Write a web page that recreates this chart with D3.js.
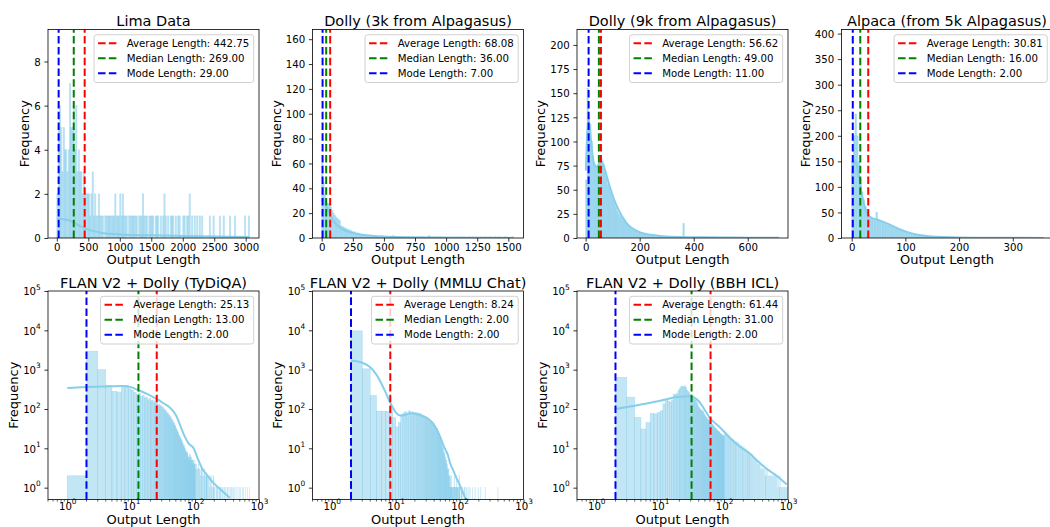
<!DOCTYPE html>
<html><head><meta charset="utf-8">
<script src="https://cdn.jsdelivr.net/npm/d3@7/dist/d3.min.js"></script>
<style>
html,body{margin:0;padding:0;background:#fff;}
svg{display:block;}
</style></head><body>
<svg id="c" width="1050" height="527"></svg>
<script>
// ---------------- DATA ----------------
const titles = ["Lima Data","Dolly (3k from Alpagasus)","Dolly (9k from Alpagasus)","Alpaca (from 5k Alpagasus)",
                "FLAN V2 + Dolly (TyDiQA)","FLAN V2 + Dolly (MMLU Chat)","FLAN V2 + Dolly (BBH ICL)"];
const meanVals   = [442.75, 68.08, 56.62, 30.81, 25.13, 8.24, 61.44];
const medianVals = [269, 36, 49, 16, 13, 2, 31];
const modeVals   = [29, 7, 11, 2, 2, 2, 2];
const legendNames = ["Average Length: ", "Median Length: ", "Mode Length: "];
const xLabelText = "Output Length";
const yLabelText = "Frequency";

// Linear panels: histogram counts (bin width in output-length units)
const limaBinWidth = 20;
const limaCounts = [2,5,6,5,3,5,4,4,3,4, 7,5,5,6,4,6,3,4,3,3, 2,3,2,2,2,2,1,2,3,1, 2,1,1,2,1,1,1,0,1,1,
  1,1,1,1,1,1,2,1,1,1, 2,1,2,1,1,1,0,1,1,1, 1,1,1,1,0,1,1,1,2,1, 1,1,0,1,1,1,1,0,1,1,
  1,0,1,0,1,2,1,0,1,0, 1,1,1,0,1,0,1,1,0,0, 1,1,0,1,1,2,0,1,0,1, 0,1,0,1,0,1,0,0,0,0,
  0,1,0,0,1,0,0,0,0,1, 0,0,1,0,0,0,0,1,0,0, 0,1,0,0,0,0,0,0,0,1, 0,0,1];
const limaXTicks = [0,500,1000,1500,2000,2500,3000];
const limaYTicks = [0,2,4,6,8];
const limaKdeX = [0,100,200,300,400,500,700,1000,1500,2000,2500,3060];
const limaKdeY = [0.88,0.85,0.8,0.65,0.5,0.38,0.24,0.16,0.12,0.09,0.07,0.05];

const dolly3kBinWidth = 10;
const dolly3kCounts = [60,45,35,30,28,28,27,25,22,20, 18,17,16,15,14,10,9,9,8,8, 7,7,6,6,5,5,5,4,4,4,
  3,3,3,2,3,2,2,2,2,1, 2,1,1,2,1,1,1,1,2,1, 1,1,1,0,1,1,1,2,1,1, 1,1,0,1,1,1,1,0,1,1,
  1,0,1,1,1,0,1,1,0,1, 1,1,0,1,0,1,2,0,1,0, 1,0,1,1,0,1,0,1,0,1, 0,1,0,1,0,0,1,0,1,0,
  1,0,0,1,0,1,0,0,1,0, 0,1,0,0,1,0,0,0,1,0, 0,1,0,0,0,1,0,0,0,1, 0,0,1,0,0,0,0,1,0,0, 0,0,0,1];
const dolly3kXTicks = [0,250,500,750,1000,1250,1500];
const dolly3kYTicks = [0,20,40,60,80,100,120,140,160];
const dolly3kKdeX = [0,10,30,60,100,150,200,300,400,600,1000,1540];
const dolly3kKdeY = [30,32,27,20,13,8,5.5,3,1.8,0.8,0.3,0.1];

const dolly9kBinWidth = 5;
const dolly9kCounts = [60,155,125,118,100,85,77,75,72,74, 78,82,80,76,68,62,55,52,47,44, 40,36,32,28,25,23,21,19,17,16,
  14,13,11,10,9,8,7,7,6,5, 5,4,4,4,3,3,3,2,3,2, 2,2,2,1,2,1,2,1,1,2, 1,1,1,1,0,1,1,1,0,1,
  1,1,15,1,0,1,1,0,1,0, 1,1,0,1,0,1,0,1,1,0, 1,0,1,0,1,1,0,0,1,0, 1,0,1,0,0,1,0,1,0,0,
  1,0,0,1,0,1,0,0,0,1, 0,0,1,0,0,0,1,0,0,1, 0,0,0,1,0,0,0,0,1,0, 0,0,1];
const dolly9kXTicks = [0,200,400,600];
const dolly9kYTicks = [0,25,50,75,100,125,150,175,200];
const dolly9kKdeX = [1,5,10,15,20,30,40,50,60,70,80,100,120,150,200,250,300,400,500,600,713];
const dolly9kKdeY = [70,105,122,115,100,78,73,77,78,72,62,44,30,16,6,3,1.5,0.8,0.5,0.3,0.2];

const alpacaBinWidth = 3;
const alpacaCounts = [150,200,243,200,150,115,90,75,62,50, 45,40,38,36,38,50,36,34,33,30, 28,27,25,24,22,21,20,19,17,16,
  15,14,13,12,10,9,8,7,6,6, 5,4,4,3,3,3,2,2,2,2, 2,1,2,1,1,1,1,1,1,1, 1,0,1,1,0,1,0,1,1,0,
  1,0,1,0,1,0,0,1,0,1, 0,1,0,0,1,0,1,0,0,1, 0,0,1,0,0,1,0,0,0,1, 0,0,1,0,0,0,1,0,0,0, 1,0,0,0,1,0,0,0,1];
const alpacaXTicks = [0,100,200,300];
const alpacaYTicks = [0,50,100,150,200,250,300,350,400];
const alpacaKdeX = [1,3,6,9,12,15,20,25,30,40,50,60,75,90,100,120,150,200,250,300,357];
const alpacaKdeY = [120,140,150,145,128,108,80,58,46,38,35,31,24,17,13,7,3,1,0.5,0.3,0.2];

// axis limits of the linear panels
const linXDomains = [[-140,3211],[-74,1622],[-32,749],[-19,374]];
const linYMax = [9.45,167.8,216,408];

// Log panels: counts per output length 1..99, then tail counts (100 log bins per decade from 10^2)
const tydiqaHead = [2,2950,1000,400,280,270,380,400,330,300, 260,230,250,210,220,190,200,170,185,160,
  170,150,160,140,150,125,135,118,125,110, 112,98,100,88,90,78,80,70,72,62, 64,55,56,48,50,42,44,38,37,32,
  31,29,27,25,23,21,20,19,18,17, 16,14,15,12,13,11,12,10,10,9, 9,8,8,7,7,8,6,6,5,6,
  7,6,7,5,6,5,6,5,4,5, 5,4,5,4,4,5,3,4,4];
const tydiqaTail = [4,3,4,3,3,4,3,3,2,3, 3,2,3,2,2,3,2,2,2,2, 2,2,1,2,2,1,2,1,1,2, 1,1,0,1,1,1,1,0,1,1,
  1,0,1,1,0,1,1,0,1,0, 1,1,0,1,0,1,0,1,1,0, 1,0,1,0,1,0,0,1,0,1, 0,1,0,0,1,0,1,0,0,1, 0,0,1,0,0,1];
const tydiqaKdeX = [1,2,4,7,10,13,18,25,32,40,50,55,62,70,80,95,110,130,150,180,250,350];
const tydiqaKdeY = [340,360,375,385,360,300,240,180,140,110,70,50,30,19,13,10,5.5,3,2.2,1.5,0.9,0.55];

const mmluHead = [0,9700,1050,220,88,88,88,110,60,35, 45,70,80,85,75,90,80,85,78,82, 75,80,70,78,72,65,70,60,64,55,
  58,50,52,45,48,45,48,40,44,38, 36,33,30,32,27,25,22,24,18,20, 15,13,14,10,11,8,7,8,5,6,
  4,5,3,4,3,2,3,2,2,1, 2,1,1,2,1,1,0,1,1,0, 1,2,1,0,1,1,0,1,2,1, 0,1,1,0,1,0,1,2,1];
const mmluTail = [1,0,1,1,0,1,0,0,1,0, 1,0,0,1,0,0,1,0,0,0, 1,0,0,0,1,0,0,0,0,1, 0,0,0,1,0,0,0,0,0,0,
  1,0,0,0,0,0,0,0,0,0, 0,0,0,0,0,0,0,0,0,0, 1];
const mmluKdeX = [2,3,4,5,6,7,8,9,10,12,14,17,21,25,30,35,42,50,57,65,72,80,90,100,115,125];
const mmluKdeY = [1700,1500,1150,750,440,260,160,110,82,68,70,78,75,68,60,50,35,19,11,7,4,2.7,1.7,1.2,0.7,0.5];

const bbhHead = [0,640,200,61,31,45,77,75,82,90, 134,163,160,150,170,240,230,250,300,340, 370,380,360,390,350,300,280,260,240,220,
  210,200,215,190,180,165,150,135,120,110, 105,100,95,92,88,90,85,75,72,68, 65,62,60,58,56,54,52,50,48,50,
  48,46,44,42,40,41,38,37,36,35, 34,33,32,31,32,30,29,28,29,27, 27,26,27,25,25,24,24,23,24,22, 23,22,22,21,21,20,21,20,20];
const bbhTail = [25,22,24,21,21,20,21,19,20,18, 19,17,18,16,17,15,16,15,14,15, 14,13,14,12,13,12,11,12,11,10,
  10,11,9,9,10,8,9,8,8,7, 8,7,7,6,7,6,6,5,6,5, 5,5,4,5,4,4,4,3,4,3, 3,3,3,3,3,2,3,2,3,2,
  2,2,2,2,2,2,2,2,2,2, 2,2,2,2,1,2,2,1,2,1, 1,1,1,1,1,1,1,1,1,1];
const bbhKdeX = [2,5,10,20,27,33,40,47,61,80,97,130,178,250,324,467,665,955];
const bbhKdeY = [100,130,163,205,212,200,160,110,57,38,28,17,11,7.5,5,3,2,1.2];

const logXDomain = [0.5, 1000];
const logYDomain = [0.5, 1e5];
const logXTicks = [1,10,100,1000];
const logYTicks = [1,10,100,1000,10000,100000];

// ---------------- LAYOUT / STYLE ----------------
const colLeft = [48, 312.5, 577, 841.5];
const rowTop = [29.5, 291];
const axW = 211, axH = 208.5;
const FONT = '"DejaVu Sans", "Liberation Sans", sans-serif';
const SKY = '#87ceeb';
const lineColors = ['#ff0000', '#008000', '#0000ff'];
const TICK_FS = 10.2;

const linCounts = [limaCounts, dolly3kCounts, dolly9kCounts, alpacaCounts];
const linBinW = [limaBinWidth, dolly3kBinWidth, dolly9kBinWidth, alpacaBinWidth];
const linXT = [limaXTicks, dolly3kXTicks, dolly9kXTicks, alpacaXTicks];
const linYT = [limaYTicks, dolly3kYTicks, dolly9kYTicks, alpacaYTicks];
const linKX = [limaKdeX, dolly3kKdeX, dolly9kKdeX, alpacaKdeX];
const linKY = [limaKdeY, dolly3kKdeY, dolly9kKdeY, alpacaKdeY];
const linAlpha = [0.5, 0.6, 0.75, 0.7];
const logHeads = [tydiqaHead, mmluHead, bbhHead];
const logTails = [tydiqaTail, mmluTail, bbhTail];
const logKX = [tydiqaKdeX, mmluKdeX, bbhKdeX];
const logKY = [tydiqaKdeY, mmluKdeY, bbhKdeY];

const panels = titles.map((t, i) => {
  const p = {title: t, mean: meanVals[i], median: medianVals[i], mode: modeVals[i]};
  if (i < 4) {
    Object.assign(p, {kind: 'lin', row: 0, col: i, counts: linCounts[i], binW: linBinW[i],
      xDom: linXDomains[i], yDom: [0, linYMax[i]], xTicks: linXT[i], yTicks: linYT[i],
      kdeX: linKX[i], kdeY: linKY[i], alpha: linAlpha[i]});
  } else {
    const j = i - 4;
    Object.assign(p, {kind: 'log', row: 1, col: j, head: logHeads[j], tail: logTails[j],
      xDom: logXDomain, yDom: logYDomain, xTicks: logXTicks, yTicks: logYTicks,
      kdeX: logKX[j], kdeY: logKY[j], alpha: 0.5});
  }
  return p;
});

const svg = d3.select('#c');
svg.append('rect').attr('width', 1050).attr('height', 527).attr('fill', '#fff');

panels.forEach((p, idx) => drawPanel(p, idx));

function drawPanel(p, idx) {
  const left = colLeft[p.col], top = rowTop[p.row];
  const right = left + axW, bottom = top + axH;
  const isLog = p.kind === 'log';
  const g = svg.append('g');
  const clipId = 'clip' + idx;
  svg.append('clipPath').attr('id', clipId).append('rect')
    .attr('x', left).attr('y', top).attr('width', axW).attr('height', axH);

  const x = (isLog ? d3.scaleLog() : d3.scaleLinear()).domain(p.xDom).range([left, right]);
  const y = (isLog ? d3.scaleLog() : d3.scaleLinear()).domain(p.yDom).range([bottom, top]);

  const bars = [];
  if (isLog) {
    p.head.forEach((c, i) => { if (c > 0) bars.push({x0: i + 1, x1: i + 2, c}); });
    p.tail.forEach((c, k) => {
      if (c > 0) { const L = Math.round(Math.pow(10, 2 + k / 100)); bars.push({x0: L, x1: L + 1, c}); }
    });
  } else {
    p.counts.forEach((c, i) => { if (c > 0) bars.push({x0: i * p.binW, x1: (i + 1) * p.binW, c}); });
  }
  const plot = g.append('g').attr('clip-path', `url(#${clipId})`);
  plot.selectAll('rect.bar').data(bars).join('rect').attr('class', 'bar')
    .attr('x', d => x(d.x0)).attr('width', d => Math.max(0.05, x(d.x1) - x(d.x0)))
    .attr('y', d => y(d.c)).attr('height', d => bottom - y(d.c))
    .attr('fill', SKY).attr('fill-opacity', p.alpha)
    .attr('stroke', SKY).attr('stroke-opacity', 0.55).attr('stroke-width', 0.6);

  const kde = p.kdeX.map((v, i) => [v, p.kdeY[i]]);
  plot.append('path').datum(kde)
    .attr('d', d3.line().x(d => x(d[0])).y(d => y(d[1])).curve(d3.curveMonotoneX))
    .attr('fill', 'none').attr('stroke', SKY).attr('stroke-width', 2);

  [p.mean, p.median, p.mode].forEach((v, k) => {
    plot.append('line').attr('x1', x(v)).attr('x2', x(v)).attr('y1', bottom).attr('y2', top)
      .attr('stroke', lineColors[k]).attr('stroke-width', 2).attr('stroke-dasharray', '7.5,3.3');
  });

  // axes
  const xa = g.append('g').attr('transform', `translate(0,${bottom})`)
    .call(d3.axisBottom(x).tickValues(p.xTicks).tickSize(3.6).tickPadding(2.2).tickFormat(d => String(d)));
  const ya = g.append('g').attr('transform', `translate(${left},0)`)
    .call(d3.axisLeft(y).tickValues(p.yTicks).tickSize(3.6).tickPadding(3.6).tickFormat(d => String(d)));
  [xa, ya].forEach(a => {
    a.attr('font-family', FONT).attr('font-size', TICK_FS);
    a.select('.domain').remove();
    a.selectAll('.tick line').attr('stroke', '#000').attr('stroke-width', 0.8);
    a.selectAll('.tick text').attr('fill', '#000');
  });
  ya.selectAll('.tick text').attr('dy', '0.36em');

  if (isLog) {
    const sup = (sel, anchorY) => sel.each(function (d) {
      const t = d3.select(this);
      const e = Math.round(Math.log10(d));
      t.text('').attr('dy', null).attr('y', anchorY);
      t.append('tspan').text('10');
      t.append('tspan').text(String(e)).attr('font-size', 7.4).attr('dy', -5.6);
    });
    sup(xa.selectAll('.tick text'), 10.5);
    sup(ya.selectAll('.tick text'), 3.7);
    // minor ticks on x
    const minors = [];
    [0.1, 1, 10, 100].forEach(b => { for (let m = 2; m <= 9; m++) { const v = b * m; if (v >= p.xDom[0] && v <= p.xDom[1]) minors.push(v); } });
    g.append('g').selectAll('line').data(minors).join('line')
      .attr('x1', d => x(d)).attr('x2', d => x(d)).attr('y1', bottom).attr('y2', bottom + 2.1)
      .attr('stroke', '#000').attr('stroke-width', 0.6);
  }

  // spines
  g.append('rect').attr('x', left).attr('y', top).attr('width', axW).attr('height', axH)
    .attr('fill', 'none').attr('stroke', '#000').attr('stroke-width', 0.8);

  // labels
  let maxW = 0;
  ya.selectAll('.tick text').each(function () { maxW = Math.max(maxW, this.getBBox().width); });
  const ylx = left - 7.2 - maxW - 5;
  g.append('text').attr('transform', `translate(${ylx},${top + axH / 2}) rotate(-90)`)
    .attr('text-anchor', 'middle').attr('font-family', FONT).attr('font-size', 13).attr('fill', '#000')
    .text(yLabelText);
  g.append('text').attr('x', left + axW / 2).attr('y', bottom + (isLog ? 24.3 : 25.5))
    .attr('text-anchor', 'middle').attr('font-family', FONT).attr('font-size', 13).attr('fill', '#000')
    .text(xLabelText);
  g.append('text').attr('x', left + axW / 2).attr('y', top - 3.5)
    .attr('text-anchor', 'middle').attr('font-family', FONT).attr('font-size', 14.5).attr('fill', '#000')
    .text(p.title);

  // legend
  const lg = g.append('g');
  const box = lg.append('rect');
  const labels = [p.mean, p.median, p.mode].map((v, k) => legendNames[k] + v.toFixed(2));
  const texts = labels.map((s, k) => lg.append('text').attr('font-family', FONT).attr('font-size', 10.2)
    .attr('fill', '#000').text(s));
  let tw = 0;
  texts.forEach(t => { tw = Math.max(tw, t.node().getComputedTextLength()); });
  const bw = 4 + 20.4 + 8.2 + tw + 4.5;
  const bx = right - 5.3 - bw, by = top + 5.3;
  box.attr('x', bx).attr('y', by).attr('width', bw).attr('height', 47.7).attr('rx', 2.5)
    .attr('fill', '#fff').attr('fill-opacity', 0.8).attr('stroke', '#cccccc').attr('stroke-width', 0.9);
  labels.forEach((s, k) => {
    const cy = by + 8.4 + 15 * k;
    lg.append('line').attr('x1', bx + 4).attr('x2', bx + 24.4).attr('y1', cy).attr('y2', cy)
      .attr('stroke', lineColors[k]).attr('stroke-width', 2).attr('stroke-dasharray', '7.5,3.3');
    texts[k].attr('x', bx + 4 + 20.4 + 8.2).attr('y', cy + 3.7);
  });
}
</script>
</body></html>
